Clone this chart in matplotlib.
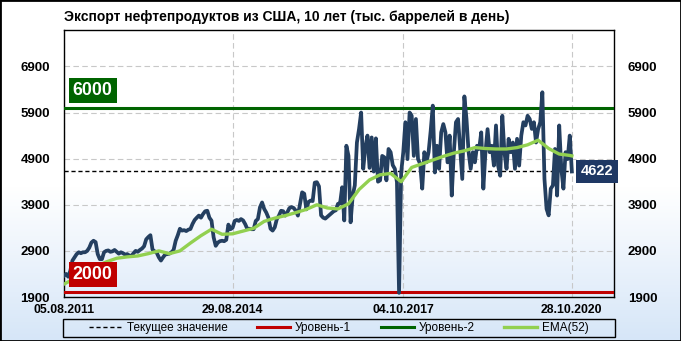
import numpy as np
import pandas as pd
import matplotlib
matplotlib.use('Agg')
import matplotlib.pyplot as plt
import matplotlib.dates as mdates
import matplotlib.transforms as mtransforms
from matplotlib.patches import Rectangle
from matplotlib.colors import LinearSegmentedColormap

plt.rcParams['font.family'] = ['Liberation Sans', 'DejaVu Sans']

# данные: экспорт нефтепродуктов (тыс. баррелей в день), шаг 2 недели
start_date = '2011-08-05'
export = [
    2360, 2400, 2340, 2470, 2690, 2760, 2830, 2870, 2850, 2870,
    2870, 2900, 2970, 3080, 3120, 3090, 2830, 2720, 2720, 2870,
    2900, 2910, 2880, 2890, 2920, 2880, 2840, 2870, 2850, 2820,
    2830, 2800, 2790, 2850, 2900, 2880, 2920, 2950, 3000, 3150,
    3200, 3240, 2930, 2890, 2860, 2760, 2690, 2760, 2820, 2830,
    2840, 2870, 2920, 3120, 3240, 3380, 3340, 3350, 3330, 3360,
    3375, 3485, 3570, 3620, 3665, 3620, 3700, 3760, 3770, 3620,
    3555, 3195, 3010, 3080, 3110, 3120, 3110, 3140, 3470, 3370,
    3400, 3550, 3570, 3550, 3590, 3560, 3480, 3375, 3380, 3370,
    3370, 3550, 3590, 3845, 3950, 3810, 3730, 3620, 3380, 3340,
    3410, 3590, 3665, 3770, 3760, 3665, 3740, 3830, 3850, 3830,
    3770, 3665, 3920, 4170, 4140, 3800, 3960, 3990, 3980, 4380,
    4390, 4300, 3670, 3620, 3600, 3640, 3680, 3720, 3760, 3780,
    3920, 3930, 4280, 3560, 5180, 4960, 3520, 4100, 4320, 5250,
    5540, 5900, 4680, 5140, 5400, 4700, 5360, 4620, 5340, 4400,
    4430, 4960, 4930, 4430, 5110, 5040, 4760, 4680, 4390, 1990,
    4600, 5040, 5690, 4890, 5900, 5830, 4960, 5760, 4890, 4790,
    4250, 5040, 4820, 5040, 5500, 6050, 4600, 5180, 4680, 5470,
    5650, 5470, 4820, 5400, 4100, 5040, 5690, 5760, 5110, 4460,
    6250, 5760, 5040, 4680, 5040, 4820, 5180, 5110, 5470, 4250,
    5040, 5540, 5040, 5180, 4750, 5620, 4750, 4530, 5830, 5040,
    4680, 5330, 5040, 5250, 4680, 5330, 4750, 5400, 5690, 5620,
    5830, 5760, 5545, 5690, 5250, 5540, 5690, 6340, 4460, 3810,
    3670, 4250, 4320, 5110, 4100, 5620, 4680, 4250, 5040, 4890,
    5400, 4622,
]

ema52 = [
    2180, 2300, 2420, 2560, 2660, 2740, 2770, 2790, 2840, 2900,
    2840, 2900, 3070, 3230, 3370, 3260, 3270, 3330, 3390, 3540,
    3610, 3665, 3730, 3800, 3900, 3830, 3810, 3920, 4230, 4440,
    4550, 4580, 4400, 4710, 4790, 4870, 4950, 5020, 5070, 5140,
    5120, 5110, 5110, 5140, 5200, 5300, 5120, 5000, 4970, 4960,
]

last_value = 4622
level_1 = 2000
level_2 = 6000
tick_dates = ['2011-08-05', '2014-08-29', '2017-10-04', '2020-10-28']
tick_labels = ['05.08.2011', '29.08.2014', '04.10.2017', '28.10.2020']
y_ticks = [1900, 2900, 3900, 4900, 5900, 6900]
title = 'Экспорт нефтепродуктов из США, 10 лет (тыс. баррелей в день)'

dates = pd.date_range(start_date, periods=len(export), freq='14D')
ema_idx = list(range(0, len(export), 5)) + [len(export) - 1]
ema_dates = dates[ema_idx]

W, H = 681, 341
fig = plt.figure(figsize=(W / 100, H / 100), dpi=100)

# фон с градиентом
bg = fig.add_axes([0, 0, 1, 1], zorder=-10)
cmap = LinearSegmentedColormap.from_list('bg', [(0, 'white'), (0.55, 'white'), (1, '#d6e6f8')])
bg.imshow(np.linspace(0, 1, 256).reshape(-1, 1), cmap=cmap, aspect='auto',
          extent=[0, 1, 0, 1], origin='upper')
bg.axis('off')

# область графика
left, right, top, bottom = 64, 614, 30, 297
ax = fig.add_axes([left / W, 1 - bottom / H, (right - left) / W, (bottom - top) / H])
ax.set_facecolor('none')

ax.plot(dates, export, color='#243f60', lw=2.7, solid_joinstyle='round', zorder=4)
ema_line, = ax.plot(ema_dates, ema52, color='#92d050', lw=2.4, zorder=5, label='EMA(52)')
l1 = ax.axhline(level_1, color='#c00000', lw=2.2, zorder=3, label='Уровень-1')
l2 = ax.axhline(level_2, color='#006400', lw=2.2, zorder=3, label='Уровень-2')
cur, = ax.plot([dates[0], dates[-1]], [last_value, last_value], color='black',
               lw=1, ls=(0, (3, 2)), zorder=3, label='Текущее значение')

x0 = mdates.date2num(pd.Timestamp(start_date))
x1 = mdates.date2num(pd.Timestamp('2021-08-06'))
ax.set_xlim(x0, x1)
ax.set_ylim(1900, 7690)

ax.set_xticks([mdates.date2num(pd.Timestamp(d)) for d in tick_dates])
ax.set_xticklabels(tick_labels, fontsize=8.8, fontweight='bold')
ax.set_yticks(y_ticks)
ax.set_yticklabels([str(v) for v in y_ticks], fontsize=9.5, fontweight='bold')
ax.tick_params(axis='y', length=0, pad=10, labelright=True)
ax.tick_params(axis='x', length=0, pad=5)
ax.grid(True, color='#c8c8c8', ls=(0, (5, 3)), lw=0.8)
ax.set_axisbelow(True)
for s in ax.spines.values():
    s.set_color('black')
    s.set_linewidth(1)

# подписи уровней
trans = mtransforms.blended_transform_factory(ax.transAxes, ax.transData)
for val, col in [(level_2, '#006400'), (level_1, '#c00000')]:
    t = mtransforms.offset_copy(trans, fig=fig, x=0, y=9, units='dots')
    ax.text(0.016, val, str(val), transform=t, color='white', fontsize=12.8,
            fontweight='bold', ha='left', va='bottom', zorder=6,
            bbox=dict(boxstyle='square,pad=0.22', fc=col, ec='none'))

ax.text(0.94, last_value, str(last_value), transform=trans, color='white',
        fontsize=10.5, fontweight='bold', ha='left', va='center', zorder=6,
        clip_on=False,
        bbox=dict(boxstyle='square,pad=0.32', fc='#1f3864', ec='none'))

fig.text(left / W, 1 - 17 / H, title, fontsize=10, fontweight='bold',
         ha='left', va='center')

# легенда
fig.legend([cur, l1, l2, ema_line],
           ['Текущее значение', 'Уровень-1', 'Уровень-2', 'EMA(52)'],
           loc='center', bbox_to_anchor=(339 / W, 1 - 328 / H), ncol=4,
           frameon=False, fontsize=8.5, handlelength=2.8, handletextpad=0.4,
           columnspacing=2.5)
fig.patches.append(Rectangle((63 / W, 1 - 337 / H), (615 - 63) / W, 18 / H,
                             transform=fig.transFigure, fill=False,
                             ec='black', lw=1))
fig.patches.append(Rectangle((0, 0), 1, 1, transform=fig.transFigure,
                             fill=False, ec='black', lw=2))

fig.savefig('out.png', dpi=100)
